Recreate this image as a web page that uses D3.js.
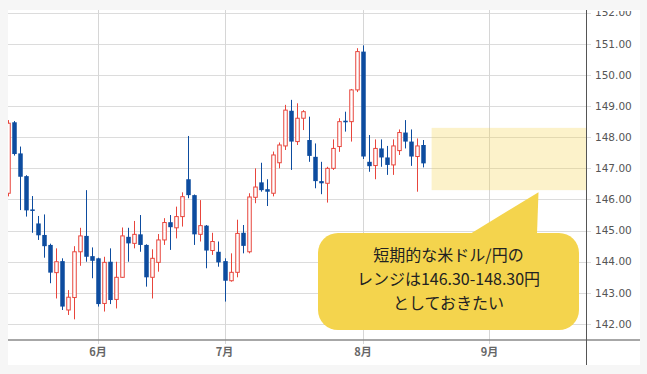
<!DOCTYPE html>
<html>
<head>
<meta charset="utf-8">
<script src="https://cdn.jsdelivr.net/npm/d3@7"></script>
<style>
  body { margin: 0; background: #f6f6f6; }
  #chart svg { display: block; }
</style>
</head>
<body>
<div id="chart"></div>
<script>
// daily USD/JPY candles, 2025-05-12 .. 2025-08-15 (weekdays only)
var days = ["5/12","5/13","5/14","5/15","5/16","5/19","5/20","5/21","5/22","5/23","5/26","5/27","5/28","5/29","5/30",
  "6/2","6/3","6/4","6/5","6/6","6/9","6/10","6/11","6/12","6/13","6/16","6/17","6/18","6/19","6/20","6/23","6/24","6/25","6/26","6/27","6/30",
  "7/1","7/2","7/3","7/4","7/7","7/8","7/9","7/10","7/11","7/14","7/15","7/16","7/17","7/18","7/21","7/22","7/23","7/24","7/25","7/28","7/29","7/30","7/31",
  "8/1","8/4","8/5","8/6","8/7","8/8","8/11","8/12","8/13","8/14","8/15"];

var open  = [146.20,148.48,147.48,146.75,145.68,145.23,144.86,144.54,143.65,144.02,142.45,142.85,144.32,144.83,144.18,
  144.11,142.66,144.00,142.79,143.50,144.80,144.59,144.88,144.54,143.50,143.98,144.70,145.27,145.09,145.45,146.65,146.14,144.88,145.16,144.36,144.32,
  144.02,143.39,143.66,144.93,144.32,146.07,146.55,146.33,146.20,147.18,147.72,148.85,147.86,148.61,147.91,147.37,146.59,146.52,147.00,147.70,148.53,148.50,149.52,
  150.75,147.21,147.09,147.64,147.35,147.11,147.57,148.15,147.86,147.38,147.75];
var high  = [148.55,148.52,147.70,146.78,146.11,145.47,145.52,144.58,144.43,144.11,143.09,144.50,145.09,146.30,144.46,
  144.13,144.16,144.43,144.00,145.10,145.09,145.31,145.50,144.56,144.40,144.89,145.40,145.50,145.77,146.23,148.04,146.16,145.98,145.18,144.93,144.65,
  144.11,144.27,145.35,145.18,146.20,147.00,147.18,146.65,147.54,147.83,149.04,149.20,149.09,148.87,148.66,147.80,147.21,147.05,147.93,148.61,148.82,149.55,150.86,
  150.95,148.07,147.93,147.93,147.72,147.93,148.25,148.55,148.25,147.96,147.91];
var low   = [146.10,147.41,145.66,145.45,144.93,144.70,144.13,143.31,142.82,142.45,142.29,142.15,143.87,144.00,143.47,
  142.56,142.40,142.64,142.50,143.48,144.00,144.43,144.32,143.20,142.82,143.68,144.54,144.38,144.75,145.13,146.04,144.54,144.65,143.79,144.22,143.84,
  142.72,143.36,143.50,144.27,144.27,145.88,146.25,145.79,146.10,147.00,147.59,146.95,147.75,148.23,147.21,146.36,146.17,145.90,146.95,147.53,148.18,147.86,149.45,
  147.30,146.89,146.65,147.05,146.79,146.79,147.43,147.64,147.08,146.25,147.03];
var close = [148.45,147.46,146.73,145.65,145.64,144.85,144.50,143.65,144.00,142.56,142.86,144.32,144.83,144.16,144.03,
  142.64,143.98,142.77,143.50,144.83,144.59,144.88,144.54,143.50,144.11,144.70,145.26,145.11,145.45,146.09,146.14,144.88,145.16,144.36,144.65,143.98,
  143.39,143.66,144.91,144.51,146.08,146.40,146.30,146.25,147.43,147.75,148.87,147.86,148.61,148.82,147.40,146.59,146.52,147.00,147.64,148.50,148.48,149.52,150.75,
  147.38,147.07,147.64,147.35,147.11,147.72,148.15,147.86,147.38,147.72,147.16];

var priceTicks = [142,143,144,145,146,147,148,149,150,151,152];
var monthLabels = ["6月","7月","8月","9月"];
var monthIdx = [15, 36, 59, 80];   // first trading day of each month, in candle index

var rangeLow = 146.30, rangeHigh = 148.30;
var noteLines = ["短期的な米ドル/円の", "レンジは146.30-148.30円", "としておきたい"];

var width = 647, height = 374;
// NB: "top" is window.top in a browser, so don't use it as a name
var plotL = 8, plotR = 586, plotT = 10, plotB = 340;

var upColor = "#e8453c", downColor = "#0d4c9f";

var svg = d3.select("#chart").append("svg")
    .attr("width", width)
    .attr("height", height);

// white panel
svg.append("rect")
    .attr("x", plotL).attr("y", plotT)
    .attr("width", 640 - plotL).attr("height", 365 - plotT)
    .attr("fill", "#fff");

var x = d3.scaleLinear().domain([0, 80]).range([7.8, 489.4]);
var y = d3.scaleLinear().domain([142, 152]).range([324, 12.7]);

var defs = svg.append("defs");
defs.append("clipPath").attr("id", "plot")
  .append("rect")
    .attr("x", plotL).attr("y", plotT)
    .attr("width", plotR - plotL).attr("height", plotB - plotT);
// top label gets cut off by the panel edge
defs.append("clipPath").attr("id", "panel")
  .append("rect")
    .attr("x", plotL).attr("y", plotT + 1)
    .attr("width", 640 - plotL).attr("height", 365 - plotT);

// horizontal grid + right labels
svg.append("g").selectAll("line")
    .data(priceTicks)
    .enter().append("line")
    .attr("x1", plotL).attr("x2", plotR + 5)
    .attr("y1", function(d) { return Math.round(y(d)) + 0.5; })
    .attr("y2", function(d) { return Math.round(y(d)) + 0.5; })
    .attr("stroke", "#dcdcdc")
    .attr("stroke-width", 1);

svg.append("g")
    .attr("clip-path", "url(#panel)")
    .selectAll("text")
    .data(priceTicks)
    .enter().append("text")
    .attr("x", 595)
    .attr("y", function(d) { return y(d); })
    .attr("dy", "0.35em")
    .attr("font-family", "DejaVu Sans")
    .attr("font-size", "10.5px")
    .attr("fill", "#555")
    .text(function(d) { return d.toFixed(2); });

// month grid + labels
svg.append("g").selectAll("line")
    .data(monthIdx)
    .enter().append("line")
    .attr("x1", function(d) { return Math.round(x(d)) + 0.5; })
    .attr("x2", function(d) { return Math.round(x(d)) + 0.5; })
    .attr("y1", plotT).attr("y2", plotB + 4)
    .attr("stroke", "#d6d6d6")
    .attr("stroke-width", 1);

svg.append("g").selectAll("text")
    .data(monthLabels)
    .enter().append("text")
    .attr("x", function(d, i) { return x(monthIdx[i]); })
    .attr("y", 356)
    .attr("text-anchor", "middle")
    .attr("font-family", "Noto Sans CJK JP")
    .attr("font-weight", "bold")
    .attr("font-size", "11px")
    .attr("fill", "#666")
    .text(function(d) { return d; });

// range band
svg.append("rect")
    .attr("x", x(days.length + 0.4))
    .attr("y", y(rangeHigh))
    .attr("width", plotR - x(days.length + 0.4))
    .attr("height", y(rangeLow) - y(rangeHigh))
    .attr("fill", "#f5d44e")
    .attr("fill-opacity", 0.3);

// candles
var candles = svg.append("g")
    .attr("clip-path", "url(#plot)")
    .selectAll("g")
    .data(days)
    .enter().append("g");

candles.append("line")
    .attr("x1", function(d, i) { return Math.round(x(i)) + 0.5; })
    .attr("x2", function(d, i) { return Math.round(x(i)) + 0.5; })
    .attr("y1", function(d, i) { return y(high[i]); })
    .attr("y2", function(d, i) { return y(low[i]); })
    .attr("stroke", function(d, i) { return close[i] >= open[i] ? upColor : downColor; })
    .attr("stroke-width", 1);

candles.append("rect")
    .attr("x", function(d, i) { return Math.round(x(i)) + 0.5 - (close[i] >= open[i] ? 1.75 : 2.25); })
    .attr("width", function(d, i) { return close[i] >= open[i] ? 3.5 : 4.5; })
    .attr("y", function(d, i) { return y(Math.max(open[i], close[i])); })
    .attr("height", function(d, i) { return Math.max(1.5, Math.abs(y(open[i]) - y(close[i]))); })
    .attr("fill", function(d, i) { return close[i] >= open[i] ? "#fff" : downColor; })
    .attr("stroke", function(d, i) { return close[i] >= open[i] ? upColor : "none"; })
    .attr("stroke-width", 1);

// axis lines
svg.append("line")
    .attr("x1", plotL).attr("x2", 640)
    .attr("y1", plotB).attr("y2", plotB)
    .attr("stroke", "#8a8a8a").attr("stroke-width", 1.5);

svg.append("line")
    .attr("x1", plotR + 0.5).attr("x2", plotR + 0.5)
    .attr("y1", plotT).attr("y2", 365)
    .attr("stroke", "#555").attr("stroke-width", 1);

// callout bubble
var bx = 318, by = 233, bw = 261, bh = 97, r = 20;
var tipX = 538.5, tipY = y(rangeLow) + 2;

var note = svg.append("g");
note.append("path")
    .attr("d", "M" + 470 + "," + (by + 1) + "L" + tipX + "," + tipY + "L" + 537 + "," + (by + 1) + "Z")
    .attr("fill", "#f4d44d");
note.append("rect")
    .attr("x", bx).attr("y", by)
    .attr("width", bw).attr("height", bh)
    .attr("rx", r).attr("ry", r)
    .attr("fill", "#f4d44d");

note.selectAll("text")
    .data(noteLines)
    .enter().append("text")
    .attr("x", bx + bw / 2)
    .attr("y", function(d, i) { return 261 + i * 24; })
    .attr("text-anchor", "middle")
    .attr("font-family", "Noto Sans CJK JP")
    .attr("font-size", "16px")
    .attr("fill", "#222")
    .text(function(d) { return d; });
</script>
</body>
</html>
